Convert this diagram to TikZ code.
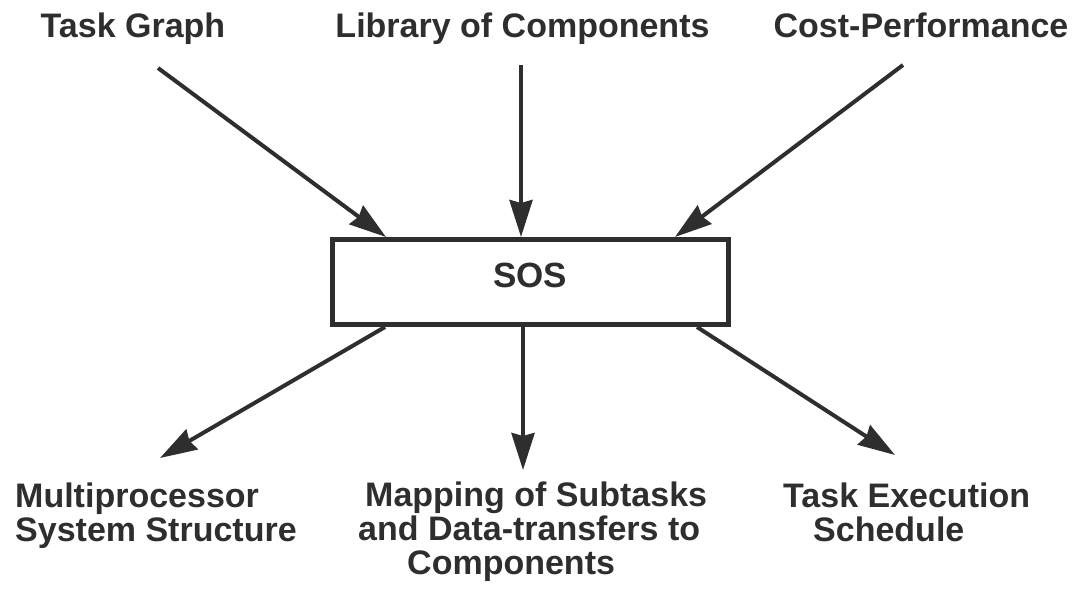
\documentclass[tikz,border=0pt]{standalone}
\usepackage{fontspec}
\setmainfont{Liberation Sans}
\usetikzlibrary{arrows.meta}
\definecolor{ink}{HTML}{2E2E2E}
\tikzset{
  lbl/.style={inner sep=0pt, text=ink, font=\bfseries\fontsize{34}{34}\selectfont},
  arr/.style={draw=ink, line width=4pt,
    -{Stealth[length=37pt, width=23pt, inset=3pt]}},
  sosbox/.style={draw=ink, line width=5pt, fill=white, inner sep=0pt,
    minimum width=396pt, minimum height=85pt,
    text height=25pt, text depth=15pt, text=ink,
    font=\bfseries\fontsize{35}{35}\selectfont}
}
\begin{document}
\begin{tikzpicture}[x=1pt, y=-1pt]
\useasboundingbox (0,0) rectangle (1082,589);

% inputs
\node[lbl, anchor=base] (tg)  at (133,37) {Task Graph};
\node[lbl, anchor=base] (lib) at (522.5,37) {Library of Components};
\node[lbl, anchor=base] (cp)  at (921,37) {Cost-Performance};

% central block
\node[sosbox] (sos) at (530,282) {SOS};

% outputs (anchored at the baseline of their last line)
\node[lbl, anchor=base west, align=left] (mss) at (15,541)
  {Multiprocessor\\System Structure};
\node[lbl, anchor=base west, align=left] (map) at (358,574)
  {\hspace*{7pt}Mapping of Subtasks\\and Data-transfers to\\\hspace*{49pt}Components};
\node[lbl, anchor=base west, align=left] (tes) at (783,541)
  {Task Execution\\\hspace*{30pt}Schedule};

% arrow end points
\coordinate (tgA) at (158,68);
\coordinate (libA) at (521,65);
\coordinate (cpA) at (903,65);
\coordinate (tgB) at (386,0);
\coordinate (libB) at (521,0);
\coordinate (cpB) at (675,0);
\coordinate (mssA) at (385,0);
\coordinate (mapA) at (523,0);
\coordinate (tesA) at (697,0);
\coordinate (mssB) at (160,458);
\coordinate (mapB) at (523,470);
\coordinate (tesB) at (895,455);

\draw[arr] (tgA) -- (sos.north -| tgB);
\draw[arr] (libA) -- (sos.north -| libB);
\draw[arr] (cpA) -- (sos.north -| cpB);
\draw[arr] (sos.south -| mssA) -- (mssB);
\draw[arr] (sos.south -| mapA) -- (mapB);
\draw[arr] (sos.south -| tesA) -- (tesB);
\end{tikzpicture}
\end{document}
